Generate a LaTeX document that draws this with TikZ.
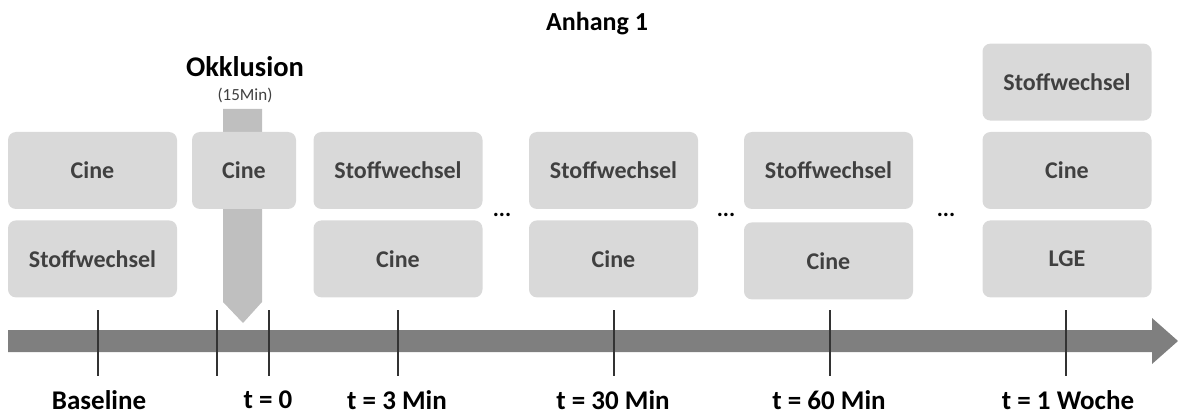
\documentclass[tikz,border=0pt]{standalone}
\usepackage{fontspec}
\setmainfont{Carlito}
\usepackage{xcolor}
\usepackage{tikz}
\usetikzlibrary{positioning}

\definecolor{boxgray}{HTML}{D9D9D9}
\definecolor{bargray}{HTML}{BFBFBF}
\definecolor{axisgray}{HTML}{7F7F7F}
\definecolor{textgray}{HTML}{404040}

\begin{document}
\begin{tikzpicture}[
        x=1pt, y=-1pt,
        node distance=11pt,
        mess/.style={rectangle, rounded corners=8pt, fill=boxgray, text=textgray, font=\fontsize{24}{28}\selectfont\bfseries, minimum width=169pt, minimum height=77pt, inner sep=0pt},
        small/.style={mess, minimum width=104pt},
        zeit/.style={font=\fontsize{27}{32}\selectfont\bfseries, anchor=center},
        dots/.style={font=\fontsize{23}{26}\selectfont\bfseries, anchor=base},
        tick/.style={line width=1.1pt, color=black!80}
    ]
    \useasboundingbox (0,0) rectangle (1178,414);

    % --- Title ---
    \node[font=\fontsize{26}{30}\selectfont\bfseries] (title) at (597,24) {Anhang 1};

    % --- Occlusion arrow (behind the box) ---
    \fill[bargray] (223,109) -- (262,109) -- (262,302) -- (243,323) -- (223,302) -- cycle;
    \node[font=\fontsize{28.5}{32}\selectfont\bfseries] (okkl) at (245,67) {Okklusion};
    \node[font=\fontsize{17}{20}\selectfont, text=textgray] (dauer) at (245,95) {(15Min)};

    % --- Boxes ---
    % Baseline
    \node[mess] (base1) at (92.5,170.5) {Cine};
    \node[mess, below=of base1] (base2) {Stoffwechsel};
    % t = 0
    \node[small] (null1) at (244,170.5) {Cine};
    % t = 3 Min
    \node[mess] (drei1) at (398,170.5) {Stoffwechsel};
    \node[mess, below=of drei1] (drei2) {Cine};
    % t = 30 Min
    \node[mess] (dreissig1) at (613.5,170.5) {Stoffwechsel};
    \node[mess, below=of dreissig1] (dreissig2) {Cine};
    % t = 60 Min
    \node[mess] (sechzig1) at (828.5,170.5) {Stoffwechsel};
    \node[mess, below=13pt of sechzig1] (sechzig2) {Cine};
    % t = 1 Woche
    \node[mess] (woche2) at (1067,170.5) {Cine};
    \node[mess, above=of woche2] (woche1) {Stoffwechsel};
    \node[mess, below=of woche2] (woche3) {LGE};

    % --- Gaps ---
    \node[dots] (gap1) at (502,217) {...};
    \node[dots] (gap2) at (726,217) {...};
    \node[dots] (gap3) at (946,217) {...};

    % --- Time axis ---
    \fill[axisgray] (8,330) -- (1152,330) -- (1152,318) -- (1178,341) -- (1152,364) -- (1152,352) -- (8,352) -- cycle;

    % --- Ticks and labels ---
    \foreach \x/\name in {98/tbase, 217/tstart, 269/tnull, 398/tdrei, 614/tdreissig, 830/tsechzig, 1066/twoche} {
        \coordinate (\name) at (\x,310);
        \draw[tick] (\name) -- ++(0,66);
    }
    \node[zeit] (lbase) at (99,400) {Baseline};
    \node[zeit] (lnull) at (268,400) {t = 0};
    \node[zeit] (ldrei) at (397,400) {t = 3 Min};
    \node[zeit] (ldreissig) at (613,400) {t = 30 Min};
    \node[zeit] (lsechzig) at (829,400) {t = 60 Min};
    \node[zeit] (lwoche) at (1068,400) {t = 1 Woche};

    \end{tikzpicture}
\end{document}
